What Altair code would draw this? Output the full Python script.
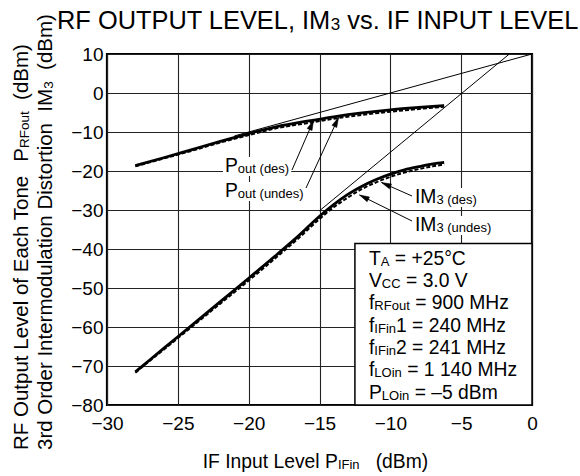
import math
import altair as alt
import pandas as pd

# ---------------- measured curves ----------------
# RF output level of each tone, P_RFout (dBm), vs IF input level (dBm)
pout_x = [-28, -26, -24, -22, -20, -18, -16, -14, -12, -10, -8, -6.2]
pout_des = [-18.6, -16.6, -14.5, -12.4, -10.4, -8.6, -7.3, -6.1, -5.1, -4.3, -3.7, -3.2]
pout_undes = [-18.8, -16.8, -14.8, -12.7, -10.8, -9.0, -7.8, -6.6, -5.6, -4.8, -4.1, -3.5]

# 3rd order intermodulation distortion, IM3 (dBm)
im3_x = [-28, -26, -24, -22, -20, -18, -16.5, -15, -14, -13, -12, -11, -10, -9, -8, -7, -6.2]
im3_des = [-71.5, -65.5, -59.5, -53.5, -47.5, -41.4, -36.7, -31.6, -28.6, -26.0, -23.9,
           -22.2, -20.8, -19.7, -18.9, -18.2, -17.8]
im3_undes = [-71.7, -65.8, -59.9, -54.0, -48.1, -42.0, -37.3, -32.3, -29.3, -26.8, -24.6,
             -22.9, -21.5, -20.4, -19.5, -18.8, -18.3]

# extrapolated small-signal slopes (1:1 and 3:1)
pout_asym_x = [-21, 0]
pout_asym_y = [-11, 10]
im3_asym_x = [-15, -1.6]
im3_asym_y = [-30.2, 10]

x_ticks = [-30, -25, -20, -15, -10, -5, 0]
y_ticks = [-80, -70, -60, -50, -40, -30, -20, -10, 0, 10]

# ---------------- layout helpers ----------------
W, H = 425, 351
PAD = {"left": 107, "top": 54, "right": 48, "bottom": 71}
X0, X1 = -30, 0
Y0, Y1 = -80, 10
FONT = "Liberation Sans"


def to_x(px):
    return X0 + (px - PAD["left"]) * (X1 - X0) / W


def to_y(py):
    return Y1 - (py - PAD["top"]) * (Y1 - Y0) / H


ADV = {" ": 278, "(": 333, ")": 333, "+": 584, ",": 278, "-": 333, ".": 278,
       "=": 584, "°": 400, "–": 556, "−": 584,
       "A": 667, "B": 667, "C": 722, "D": 722, "E": 667, "F": 611, "G": 778,
       "H": 722, "I": 278, "L": 556, "M": 833, "N": 722, "O": 778, "P": 667,
       "R": 722, "S": 667, "T": 611, "U": 722, "V": 667,
       "a": 556, "c": 500, "d": 556, "e": 556, "f": 278, "h": 556, "i": 222,
       "l": 222, "m": 833, "n": 556, "o": 556, "p": 556, "r": 333, "s": 500,
       "t": 278, "u": 556, "v": 500, "z": 500}


def text_w(s, size):
    return sum(ADV.get(c, 556) for c in s) * size / 1000.0


def pieces(segs):
    """Split (text, size, sub) pieces into (lead advance, visible text, size, sub, width)."""
    out = []
    for txt, size, sub in segs:
        lead = len(txt) - len(txt.lstrip(" "))
        out.append((text_w(" " * lead, size), txt.lstrip(" "), size, sub, text_w(txt, size)))
    return out


def rich_h(px, py, segs):
    """Horizontal text made of (text, font size, is_subscript) pieces."""
    rows = []
    cur = px
    for lead, txt, size, sub, w in pieces(segs):
        rows.append({"x": to_x(cur + lead), "y": to_y(py + (1.0 if sub else 0.0)),
                     "text": txt, "size": size})
        cur += w
    return rows, cur


def rich_v(px, py, segs):
    """Text reading bottom-to-top (rotated 270 degrees)."""
    rows = []
    cur = py
    for lead, txt, size, sub, w in pieces(segs):
        rows.append({"x": to_x(px + (1.0 if sub else 0.0)), "y": to_y(cur - lead),
                     "text": txt, "size": size})
        cur -= w
    return rows


BIG, SMALL = 19.3, 13

# ---------------- text pieces ----------------
horiz_rows = []
label_boxes = []

r, _ = rich_h(57, 29, [("RF OUTPUT LEVEL, IM", 25.4, False), ("3", 17, True),
                       (" vs. IF INPUT LEVEL", 25.4, False)])
horiz_rows += r

r, _ = rich_h(202.7, 468, [("IF Input Level ", 19.3, False), ("P", 19.3, False),
                           ("IFin", 13, True), ("   (dBm)", 19.3, False)])
horiz_rows += r

curve_labels = [
    (225, 172, [("P", BIG, False), ("out (des)", SMALL, True)]),
    (225, 197, [("P", BIG, False), ("out (undes)", SMALL, True)]),
    (415, 203, [("IM", BIG, False), ("3 (des)", SMALL, True)]),
    (415, 231, [("IM", BIG, False), ("3 (undes)", SMALL, True)]),
]
for px, py, segs in curve_labels:
    r, end = rich_h(px, py, segs)
    horiz_rows += r
    label_boxes.append({"x": to_x(px - 2), "x2": to_x(end + 2),
                        "y": to_y(py - 15), "y2": to_y(py + 4)})

cond_lines = [
    [("T", BIG, False), ("A", SMALL, True), (" = +25°C", BIG, False)],
    [("V", BIG, False), ("CC", SMALL, True), (" = 3.0 V", BIG, False)],
    [("f", BIG, False), ("RFout", SMALL, True), (" = 900 MHz", BIG, False)],
    [("f", BIG, False), ("IFin", SMALL, True), ("1 = 240 MHz", BIG, False)],
    [("f", BIG, False), ("IFin", SMALL, True), ("2 = 241 MHz", BIG, False)],
    [("f", BIG, False), ("LOin", SMALL, True), (" = 1 140 MHz", BIG, False)],
    [("P", BIG, False), ("LOin", SMALL, True), (" = –5 dBm", BIG, False)],
]
cond_base = [264.5, 286.5, 309, 331.5, 354, 376, 398.5]
for segs, py in zip(cond_lines, cond_base):
    r, _ = rich_h(369, py, segs)
    horiz_rows += r

YT = 20.5
vert_rows = []
vert_rows += rich_v(28, 450, [("RF Output Level of Each Tone  ", YT, False),
                              ("P", YT, False), ("RFout", 13.5, True),
                              ("  (dBm)", YT, False)])
vert_rows += rich_v(52, 450, [("3rd Order Intermodulation Distortion  ", YT, False),
                              ("IM", YT, False), ("3", 13.5, True),
                              ("  (dBm)", YT, False)])

# leader lines from labels to curves (start px, tip px)
leaders_px = [
    ((292, 170), (313.5, 120.5)),
    ((306, 188), (338.5, 117.5)),
    ((412, 196), (381.5, 182.5)),
    ((412, 221), (359.5, 195)),
]
leader_rows, head_rows = [], []
for (sx, sy), (tx, ty) in leaders_px:
    leader_rows.append({"x": to_x(sx), "y": to_y(sy), "x2": to_x(tx), "y2": to_y(ty)})
    ang = math.degrees(math.atan2(tx - sx, -(ty - sy))) % 360
    head_rows.append({"x": to_x(tx), "y": to_y(ty), "ang": ang})

# ---------------- data frames ----------------
pout_des_df = pd.DataFrame({"x": pout_x, "y": pout_des})
pout_undes_df = pd.DataFrame({"x": pout_x, "y": pout_undes})
im3_des_df = pd.DataFrame({"x": im3_x, "y": im3_des})
im3_undes_df = pd.DataFrame({"x": im3_x, "y": im3_undes})
asym_df = pd.DataFrame({
    "x": pout_asym_x + im3_asym_x,
    "y": pout_asym_y + im3_asym_y,
    "line": ["pout", "pout", "im3", "im3"],
})

xs = alt.Scale(domain=[X0, X1], nice=False, zero=False)
ys = alt.Scale(domain=[Y0, Y1], nice=False, zero=False)

X = alt.X("x:Q", scale=xs, axis=alt.Axis(values=x_ticks, title=None, labelPadding=9,
                                          labelFlush=False))
Y = alt.Y("y:Q", scale=ys, axis=alt.Axis(values=y_ticks, title=None, labelPadding=4))

cond_box = alt.Chart(pd.DataFrame([{"x": -12.5, "x2": 0, "y": -38.6, "y2": -80}])).mark_rect(
    fill="white", stroke="black", strokeWidth=1.5).encode(
    x=X, x2="x2:Q", y=Y, y2="y2:Q")

label_bg = alt.Chart(pd.DataFrame(label_boxes)).mark_rect(fill="white").encode(
    x=X, x2="x2:Q", y=Y, y2="y2:Q")

asym = alt.Chart(asym_df).mark_line(color="black", strokeWidth=1).encode(
    x=X, y=Y, detail="line:N")


def curve(df, dashed):
    if dashed:
        m = alt.Chart(df).mark_line(color="black", strokeWidth=2, strokeDash=[4, 2],
                                    interpolate="monotone")
    else:
        m = alt.Chart(df).mark_line(color="black", strokeWidth=2.8,
                                    interpolate="monotone")
    return m.encode(x=X, y=Y)


leaders = alt.Chart(pd.DataFrame(leader_rows)).mark_rule(
    color="black", strokeWidth=1).encode(x=X, y=Y, x2="x2:Q", y2="y2:Q")

# arrowheads: narrow triangles whose tip sits on the curve
heads = alt.Chart(pd.DataFrame(head_rows)).mark_point(
    shape="M0,0L0.75,2.8L-0.75,2.8Z", filled=True, fill="black", stroke="black",
    strokeWidth=0.5, opacity=1, size=49).encode(
    x=X, y=Y, angle=alt.Angle("ang:Q", scale=None))

htext = alt.Chart(pd.DataFrame(horiz_rows)).mark_text(
    align="left", baseline="alphabetic", font=FONT, color="black").encode(
    x=X, y=Y, text="text:N", size=alt.Size("size:Q", scale=None, legend=None))

vtext = alt.Chart(pd.DataFrame(vert_rows)).mark_text(
    align="left", baseline="alphabetic", font=FONT, color="black", angle=270).encode(
    x=X, y=Y, text="text:N", size=alt.Size("size:Q", scale=None, legend=None))

chart = alt.layer(
    cond_box, label_bg, asym,
    curve(pout_undes_df, True), curve(pout_des_df, False),
    curve(im3_undes_df, True), curve(im3_des_df, False),
    leaders, heads, htext, vtext,
).properties(
    width=W, height=H,
    autosize=alt.AutoSizeParams(type="none"),
    padding=PAD,
    background="white",
).configure_view(
    stroke="black", strokeWidth=2.2,
).configure_axis(
    domain=False, ticks=False, grid=True, gridColor="#222222", gridWidth=1.1,
    labelFont=FONT, labelFontSize=19, labelColor="black",
)

chart.save("out.html", embed_options={"renderer": "svg", "actions": False})
